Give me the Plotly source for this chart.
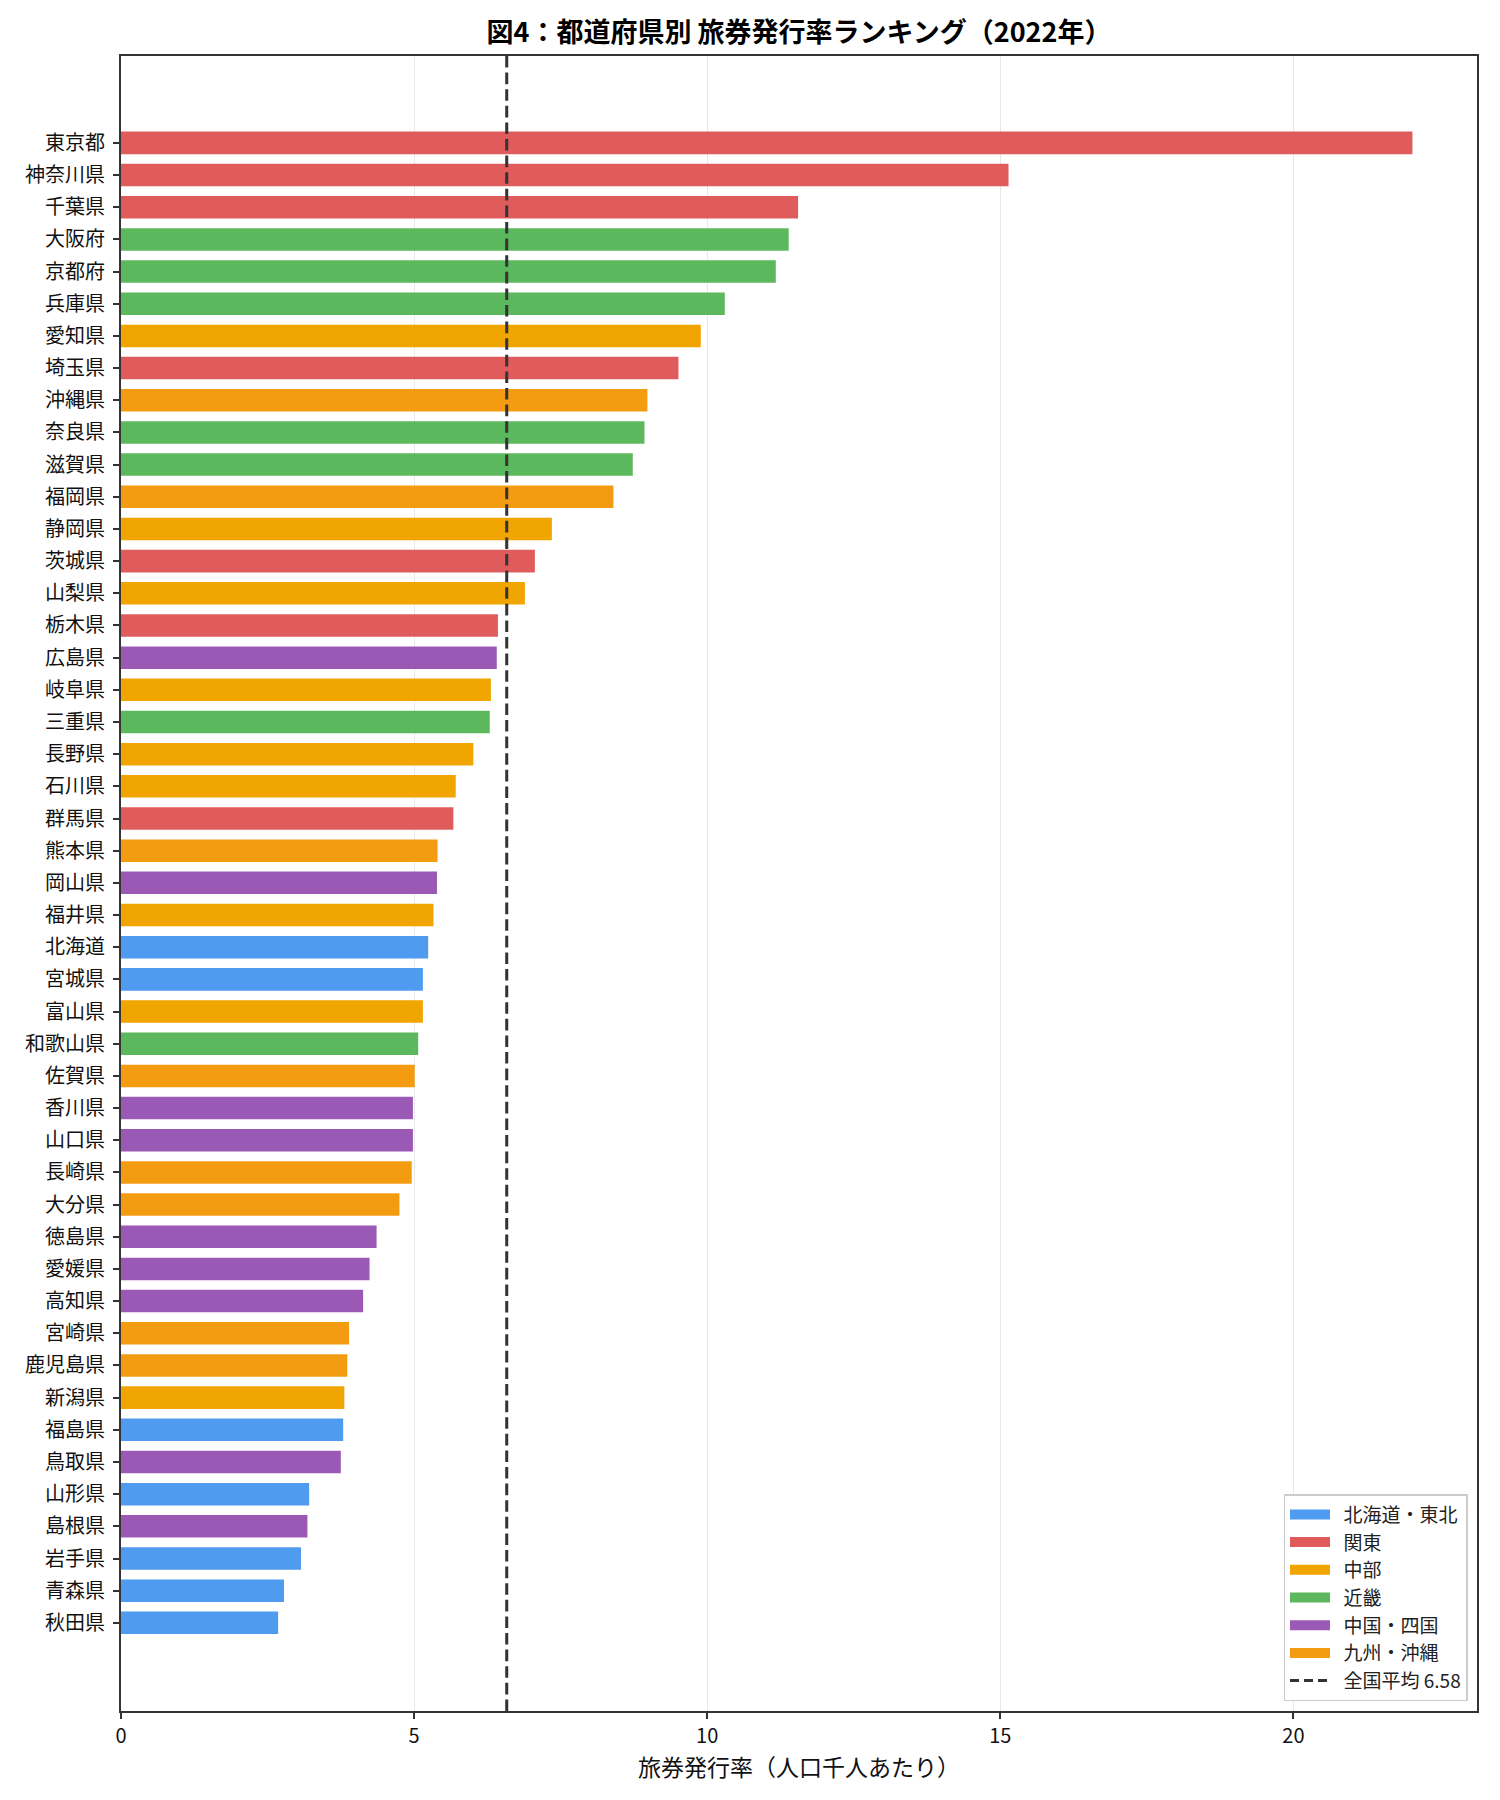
import plotly.graph_objects as go

prefectures = ['東京都', '神奈川県', '千葉県', '大阪府', '京都府', '兵庫県', '愛知県', '埼玉県',
               '沖縄県', '奈良県', '滋賀県', '福岡県', '静岡県', '茨城県', '山梨県', '栃木県',
               '広島県', '岐阜県', '三重県', '長野県', '石川県', '群馬県', '熊本県', '岡山県',
               '福井県', '北海道', '宮城県', '富山県', '和歌山県', '佐賀県', '香川県', '山口県',
               '長崎県', '大分県', '徳島県', '愛媛県', '高知県', '宮崎県', '鹿児島県', '新潟県',
               '福島県', '鳥取県', '山形県', '島根県', '岩手県', '青森県', '秋田県']

rates = [22.03, 15.14, 11.55, 11.39, 11.17, 10.30, 9.89, 9.51,
         8.98, 8.93, 8.73, 8.40, 7.35, 7.06, 6.89, 6.43,
         6.41, 6.31, 6.29, 6.01, 5.71, 5.67, 5.40, 5.39,
         5.33, 5.24, 5.15, 5.15, 5.07, 5.01, 4.98, 4.98,
         4.96, 4.75, 4.36, 4.24, 4.13, 3.89, 3.86, 3.81,
         3.79, 3.75, 3.21, 3.18, 3.07, 2.78, 2.68]

regions = ['関東', '関東', '関東', '近畿', '近畿', '近畿', '中部', '関東',
           '九州・沖縄', '近畿', '近畿', '九州・沖縄', '中部', '関東', '中部', '関東',
           '中国・四国', '中部', '近畿', '中部', '中部', '関東', '九州・沖縄', '中国・四国',
           '中部', '北海道・東北', '北海道・東北', '中部', '近畿', '九州・沖縄', '中国・四国', '中国・四国',
           '九州・沖縄', '九州・沖縄', '中国・四国', '中国・四国', '中国・四国', '九州・沖縄', '九州・沖縄', '中部',
           '北海道・東北', '中国・四国', '北海道・東北', '中国・四国', '北海道・東北', '北海道・東北', '北海道・東北']

region_order = ['北海道・東北', '関東', '中部', '近畿', '中国・四国', '九州・沖縄']
region_colors = ['#4f9bef', '#e05c5c', '#f0a500', '#5cb85c', '#9b59b6', '#f39c12']

national_avg = 6.58

font_family = 'Noto Sans CJK JP, Noto Sans, sans-serif'
pad = '\u00a0\u00a0'  # a little room between legend swatch and label

fig = go.Figure()

for region, color in zip(region_order, region_colors):
    idx = [i for i, r in enumerate(regions) if r == region]
    fig.add_trace(go.Bar(
        x=[rates[i] for i in idx],
        y=idx,
        orientation='h',
        width=0.7,
        name=region,
        showlegend=False,
        marker=dict(color=color, line=dict(width=0)),
    ))
    # legend entry drawn as a thick line so the swatch is a wide rectangle
    fig.add_trace(go.Scatter(x=[None], y=[None], mode='lines', name=pad + region,
                             line=dict(color=color, width=13)))

fig.add_shape(type='line', x0=national_avg, x1=national_avg, xref='x', y0=0, y1=1, yref='paper',
              line=dict(color='#333333', width=3, dash='11.6px,5px'))
fig.add_trace(go.Scatter(x=[None], y=[None], mode='lines', name=f'{pad}全国平均 {national_avg}',
                         line=dict(color='#333333', width=3, dash='9px,5px')))

n = len(prefectures)
W, H = 1492, 1792
fig.update_layout(
    width=W, height=H,
    margin=dict(l=113, r=23, t=48, b=89),
    paper_bgcolor='white', plot_bgcolor='white',
    barmode='overlay',
    font=dict(family=font_family, size=20, color='#111111'),
    title=dict(text='<b>図4：都道府県別 旅券発行率ランキング（2022年）</b>',
               x=0.5, xref='paper', xanchor='center', y=1 - 25 / H, yanchor='middle',
               font=dict(size=27, color='#000000')),
    legend=dict(x=0.993, y=0.006, xanchor='right', yanchor='bottom',
                bgcolor='white', bordercolor='#cccccc', borderwidth=1.5,
                font=dict(size=19, color='#222222'), tracegroupgap=0, itemwidth=40),
    showlegend=True,
)

fig.update_xaxes(
    range=[0, max(rates) * 1.05], tickvals=[0, 5, 10, 15, 20],
    showgrid=True, gridcolor='#e8e8e8', gridwidth=1, zeroline=False,
    showline=True, linecolor='#333333', linewidth=2, mirror=True,
    ticks='outside', ticklen=6, tickwidth=1.5, tickcolor='#333333',
    tickfont=dict(size=20, color='#111111'),
    title=dict(text='旅券発行率（人口千人あたり）', font=dict(size=23, color='#111111'), standoff=4),
)
fig.update_yaxes(
    range=[n - 1 + 2.74, -2.7], tickvals=list(range(n)), ticktext=prefectures,
    showgrid=False, zeroline=False,
    showline=True, linecolor='#333333', linewidth=2, mirror=True,
    ticks='outside', ticklen=6, tickwidth=1.5, tickcolor='#333333',
    tickfont=dict(size=20, color='#111111'), ticklabelstandoff=4,
)

fig.write_html("out.html")
